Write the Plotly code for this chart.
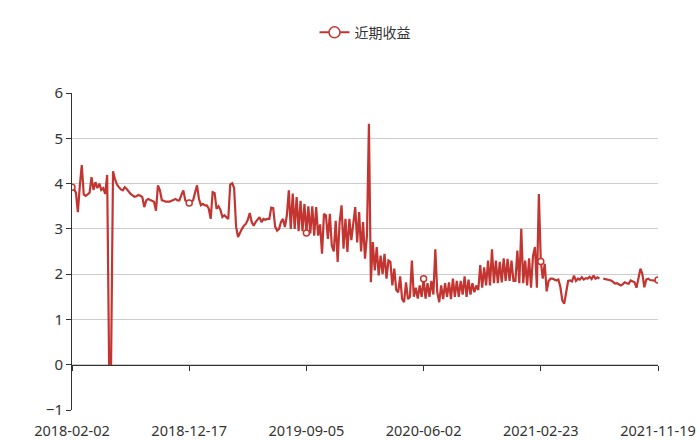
import plotly.graph_objects as go

RED = "#c23531"
AXIS = "#333333"
FONT = "Noto Sans, Noto Sans CJK SC, sans-serif"

series_name = "近期收益"
tick_labels = ["2018-02-02", "2018-12-17", "2019-09-05", "2020-06-02", "2021-02-23", "2021-11-19"]

seg1 = [3.92, 3.88, 3.80, 3.37, 3.95, 4.41, 3.76, 3.73, 3.76, 3.80,
        4.14, 3.86, 4.03, 3.90, 4.00, 3.86, 3.90, 3.77, 4.19, 0.00,
        0.00, 4.27, 4.10, 3.98, 3.92, 3.87, 3.85, 3.92, 3.88, 3.82,
        3.77, 3.74, 3.71, 3.72, 3.75, 3.73, 3.70, 3.48, 3.63, 3.66,
        3.64, 3.62, 3.60, 3.40, 3.96, 3.85, 3.63, 3.62, 3.60, 3.60,
        3.60, 3.62, 3.64, 3.66, 3.63, 3.63, 3.75, 3.85, 3.63, 3.60]
seg2 = [3.57, 3.60, 3.63, 3.80, 3.96, 3.66, 3.52, 3.55, 3.52, 3.52,
        3.45, 3.22, 3.81, 3.79, 3.44, 3.50, 3.42, 3.26, 3.30, 3.26,
        3.22, 3.98, 4.01, 3.90, 3.05, 2.82, 2.92, 3.00, 3.07, 3.11,
        3.20, 3.35, 3.15, 3.07, 3.15, 3.20, 3.26, 3.15, 3.22, 3.20,
        3.22, 3.22, 3.47, 3.46, 3.05, 2.96, 3.00, 3.15, 3.22, 3.04,
        3.30, 3.85, 3.00, 3.78, 3.00, 3.70, 2.95, 3.62, 2.95, 3.55]
seg3 = [2.91, 3.50, 2.90, 3.50, 2.85, 3.48, 2.85, 3.10, 2.45, 3.33,
        3.30, 2.78, 3.33, 2.63, 2.50, 3.18, 2.27, 3.15, 3.52, 2.56,
        3.22, 2.49, 3.22, 2.75, 3.10, 3.48, 2.70, 3.37, 2.50, 3.15,
        2.34, 2.85, 5.32, 1.82, 2.71, 2.08, 2.60, 1.97, 2.41, 2.00,
        2.45, 1.90, 2.30, 2.27, 1.75, 2.12, 1.65, 1.60, 1.95, 1.45,
        1.38, 1.82, 1.45, 1.50, 2.30, 1.50, 1.70, 1.46, 1.75, 1.50]
seg4 = [1.90, 1.46, 1.80, 1.50, 1.85, 1.55, 2.55, 1.60, 1.38, 1.75,
        1.45, 1.80, 1.50, 1.82, 1.45, 1.90, 1.50, 1.85, 1.50, 1.85,
        1.55, 1.95, 1.50, 1.88, 1.55, 1.80, 1.60, 1.75, 1.65, 2.20,
        1.70, 2.15, 1.75, 2.30, 1.75, 2.55, 1.80, 2.30, 1.80, 2.27,
        1.82, 2.35, 1.85, 2.34, 1.85, 2.30, 1.85, 1.85, 2.52, 1.80,
        3.00, 1.80, 2.30, 1.75, 2.35, 1.70, 2.40, 2.60, 1.70, 3.77]
seg5 = [2.28, 1.90, 2.23, 1.62, 1.85, 1.90, 1.90, 1.88, 1.86, 1.88,
        1.72, 1.42, 1.35, 1.60, 1.85, 1.86, 1.84, 1.97, 1.85, 1.90,
        1.88, 1.93, 1.88, 1.91, 1.90, 1.94, 1.89, 1.97, 1.90, 1.93,
        1.90, None, 1.90, 1.89, 1.88, 1.87, 1.86, 1.83, 1.79, 1.80,
        1.77, 1.75, 1.78, 1.82, 1.80, 1.79, 1.86, 1.84, 1.82, 1.70,
        1.95, 2.12, 2.00, 1.71, 1.88, 1.90, 1.87, 1.86, 1.86, 1.85,
        1.87]

values = seg1 + seg2 + seg3 + seg4 + seg5
x_idx = list(range(len(values)))
step = (len(values) - 1) // (len(tick_labels) - 1)
tick_idx = [k * step for k in range(len(tick_labels))]
x_range = [0, len(values) - 1]

fig = go.Figure()
fig.add_trace(go.Scatter(
    x=x_idx, y=values, mode="lines",
    line=dict(color=RED, width=2.2),
    connectgaps=False, showlegend=False, hoverinfo="skip",
))
fig.add_trace(go.Scatter(
    x=tick_idx, y=[values[i] for i in tick_idx], mode="markers",
    marker=dict(symbol="circle", size=6, color="white", line=dict(color=RED, width=1.5)),
    xaxis="x2", showlegend=False, hoverinfo="skip",
))
fig.add_trace(go.Scatter(
    x=[None], y=[None], mode="lines+markers", name=series_name,
    line=dict(color=RED, width=2),
    marker=dict(symbol="circle", size=11, color="white", line=dict(color=RED, width=1.5)),
))

fig.update_layout(
    width=700, height=440,
    margin=dict(l=72, r=42, t=93, b=30, autoexpand=False),
    paper_bgcolor="white", plot_bgcolor="white",
    font=dict(family=FONT, size=14, color=AXIS),
    showlegend=True,
    legend=dict(orientation="h", x=0.5, xanchor="center", y=1.19, yanchor="middle",
                font=dict(size=14, color=AXIS), itemwidth=30),
    xaxis=dict(range=x_range, tickmode="array", tickvals=tick_idx, ticktext=tick_labels,
               showgrid=False, zeroline=False, showline=False, automargin=False,
               ticks="outside", ticklen=8, tickcolor="rgba(0,0,0,0)",
               tickfont=dict(size=14.5, color=AXIS)),
    xaxis2=dict(range=x_range, overlaying="x", anchor="free", position=1 / 7, side="bottom",
                tickmode="array", tickvals=tick_idx, showticklabels=False,
                ticks="outside", ticklen=5, tickcolor=AXIS,
                showline=True, linecolor=AXIS, linewidth=1,
                showgrid=False, zeroline=False),
    yaxis=dict(range=[-1, 6], tick0=0, dtick=1, showgrid=True, gridcolor="#cccccc",
               showline=True, linecolor=AXIS, linewidth=1, automargin=False,
               ticks="outside", ticklen=5, tickcolor=AXIS, zeroline=False,
               tickfont=dict(size=15, color=AXIS)),
)

fig.write_html(
    "out.html",
    config={"displayModeBar": False},
    post_script="document.body.style.margin='0';document.body.style.overflow='hidden';",
)
